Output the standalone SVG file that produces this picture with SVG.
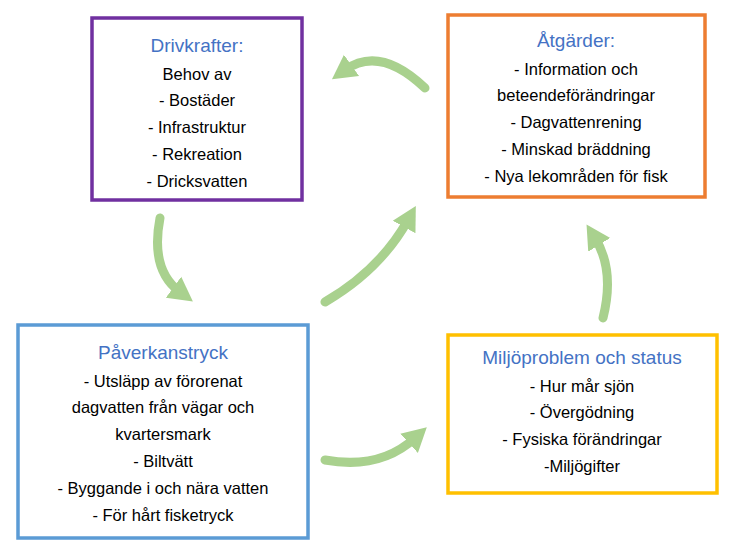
<svg xmlns="http://www.w3.org/2000/svg" width="745" height="555" viewBox="0 0 745 555">
<style>
.box{fill:#fff;stroke-width:3.5}
.t{font-family:"Liberation Sans",Arial,sans-serif;font-size:19px;fill:#4472C4;text-anchor:middle}
.b{font-family:"Liberation Sans",Arial,sans-serif;font-size:16.5px;fill:#000;text-anchor:middle}
.c{fill:none;stroke:#A9D18E;stroke-width:9;stroke-linecap:round}
</style>
<defs>
<marker id="ah" markerUnits="userSpaceOnUse" markerWidth="30" markerHeight="30" refX="8" refY="15" orient="auto">
<path d="M0,2 L24,15 L0,28 Z" fill="#A9D18E"/>
</marker>
</defs>
<rect width="745" height="555" fill="#fff"/>
<g id="drivkrafter">
<rect class="box" x="92" y="18" width="210" height="182" stroke="#7030A0"/>
<text class="t" x="197" y="52">Drivkrafter:</text>
<text class="b" x="197" y="80">Behov av</text>
<text class="b" x="197" y="106">- Bostäder</text>
<text class="b" x="197" y="133">- Infrastruktur</text>
<text class="b" x="197" y="160">- Rekreation</text>
<text class="b" x="197" y="187">- Dricksvatten</text>
</g>
<g id="atgarder">
<rect class="box" x="448" y="15" width="257" height="182" stroke="#ED7D31"/>
<text class="t" x="576" y="47">Åtgärder:</text>
<text class="b" x="576" y="75">- Information och</text>
<text class="b" x="576" y="101">beteendeförändringar</text>
<text class="b" x="576" y="128">- Dagvattenrening</text>
<text class="b" x="576" y="155">- Minskad bräddning</text>
<text class="b" x="576" y="182">- Nya lekområden för fisk</text>
</g>
<g id="paverkanstryck">
<rect class="box" x="18" y="325" width="290" height="213" stroke="#5B9BD5"/>
<text class="t" x="163" y="359">Påverkanstryck</text>
<text class="b" x="163" y="387">- Utsläpp av förorenat</text>
<text class="b" x="163" y="413">dagvatten från vägar och</text>
<text class="b" x="163" y="440">kvartersmark</text>
<text class="b" x="163" y="467">- Biltvätt</text>
<text class="b" x="163" y="494">- Byggande i och nära vatten</text>
<text class="b" x="163" y="521">- För hårt fisketryck</text>
</g>
<g id="miljoproblem">
<rect class="box" x="448" y="335" width="269" height="158" stroke="#FFC000"/>
<text class="t" x="582" y="364">Miljöproblem och status</text>
<text class="b" x="582" y="392">- Hur mår sjön</text>
<text class="b" x="582" y="418">- Övergödning</text>
<text class="b" x="582" y="445">- Fysiska förändringar</text>
<text class="b" x="582" y="472">-Miljögifter</text>
</g>
<g id="connectors">
<path class="c" d="M425,88 Q380,45 345,70" marker-end="url(#ah)"/>
<path class="c" d="M160,218 Q150,270 180,292" marker-end="url(#ah)"/>
<path class="c" d="M325,302 Q380,270 408,220" marker-end="url(#ah)"/>
<path class="c" d="M325,460 Q380,470 415,438" marker-end="url(#ah)"/>
<path class="c" d="M603,318 Q615,270 595,238" marker-end="url(#ah)"/>
</g>
</svg>
